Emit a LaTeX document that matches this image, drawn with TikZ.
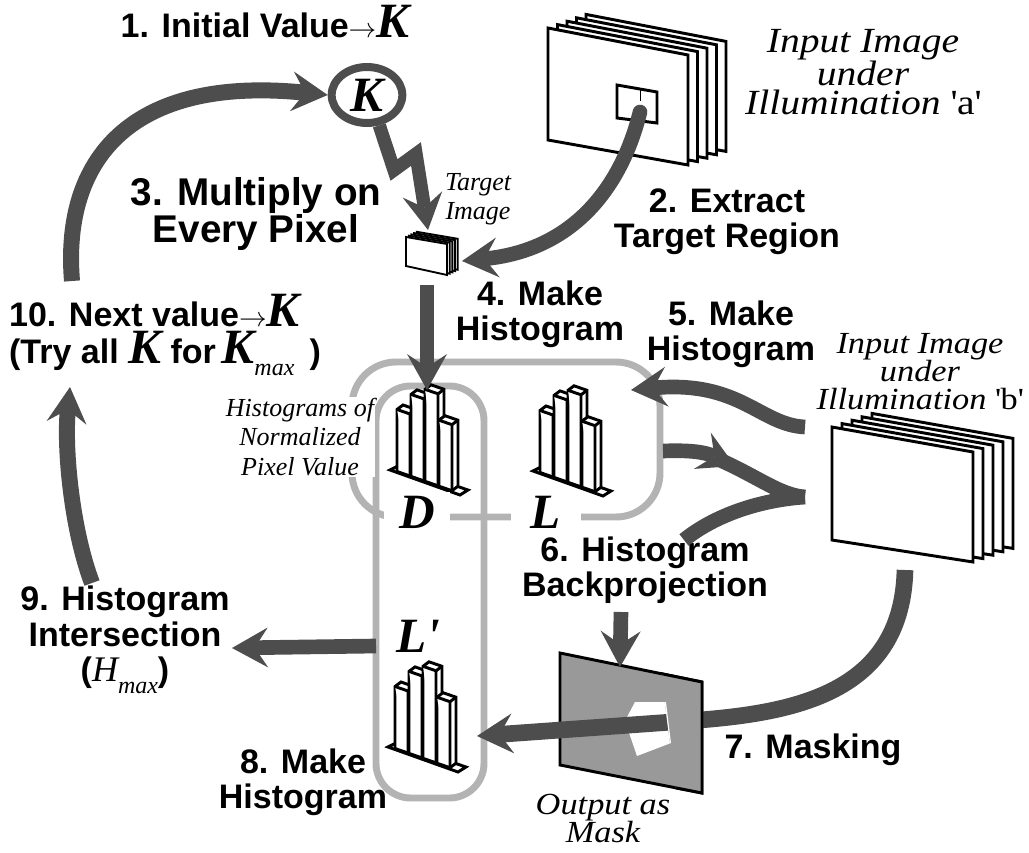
\documentclass[tikz,border=0pt]{standalone}
\usepackage{fontspec}
\setmainfont{Liberation Serif}
\newfontfamily\labelfont{Liberation Sans}
\newfontfamily\notefont[FakeStretch=1.12]{Liberation Serif}
\usetikzlibrary{arrows.meta,shapes.geometric}
\definecolor{flowgray}{HTML}{4D4D4D}
\definecolor{boxgray}{HTML}{B3B3B3}
\definecolor{maskgray}{HTML}{999999}

% big bold italic variable letter
\newcommand\BigK{{\rmfamily\bfseries\itshape\fontsize{37}{37}\selectfont K}}
% thin arrow used inside the bold labels
\newcommand\thinarrow{{\fontsize{21}{21}\selectfont$\rightarrow$}}
% italic subscript
\newcommand\subit[1]{\raisebox{-9pt}{\rmfamily\mdseries\itshape\fontsize{18}{18}\selectfont #1}}
% one isometric bar: front-left foot (#1,#2), height #3
\newcommand\histbar[3]{%
  \filldraw[histline] (#1,#2) -- ++(13,4.5) -- ++(6,-4.5) -- ++(0,-#3) -- ++(-13,-4.5) -- ++(-6,4.5) -- cycle;
  \draw[histline] (#1,#2) ++(13,4.5) -- ++(0,-#3) -- ++(-13,-4.5);
  \draw[histline] (#1,#2) ++(13,4.5) ++(0,-#3) -- ++(6,-4.5);
}

\tikzset{
  histline/.style={draw=black, fill=white, line width=2.2pt, line join=miter},
  histo/.pic={
    \filldraw[histline] (0,0) -- (70,25) -- (78,20) -- (8,-4) -- cycle;
    \histbar{7}{1.5}{62}
    \histbar{21}{6.4}{82}
    \histbar{35}{11.3}{92}
    \histbar{49}{16.2}{66}
  },
  sheet/.style={draw=black, fill=white, line width=2.2pt, line join=miter},
  smallsheet/.style={draw=black, fill=white, line width=1.4pt, line join=miter},
  groupbox/.style={draw=boxgray, line width=5.2pt},
  steplabel/.style={font=\labelfont\bfseries\fontsize{25.5}{26.5}\selectfont, align=center, inner sep=1pt},
  note/.style={font=\notefont\itshape\fontsize{23}{21}\selectfont, align=center, inner sep=1pt},
  bignote/.style={font=\notefont\itshape\fontsize{26.5}{21.5}\selectfont, align=center, inner sep=1pt},
  smallnote/.style={font=\itshape\fontsize{19.5}{22}\selectfont, align=center, inner sep=1pt},
  varlabel/.style={font=\bfseries\itshape\fontsize{37}{37}\selectfont, inner sep=0pt},
  headtip/.tip={Stealth[length=27pt, width=30pt, inset=10pt, line width=0pt]},
  flow/.style={draw=flowgray, line width=11pt, line cap=butt, -headtip},
  flowplain/.style={draw=flowgray, line width=11pt},
}

\begin{document}
\begin{tikzpicture}[x=0.75pt, y=-0.75pt]
\useasboundingbox (0,0) rectangle (1029,853);

% ---- grouping outlines around the histograms
\draw[groupbox, rounded corners=33pt] (352,362) rectangle (660,517);
\draw[groupbox, rounded corners=26pt] (376,386) rectangle (484,798);

% ---- histograms
\pic at (390,470) {histo};
\pic at (533,471) {histo};
\pic at (388,747) {histo};

\node[varlabel, fill=white, minimum width=50pt, minimum height=30pt] (dlab) at (417,512) {D};
\node[varlabel, fill=white, minimum width=52pt, minimum height=30pt] (llab) at (546,512) {L};
\node[varlabel] (lplab) at (418,636) {L\textquotesingle};

% ---- input image stack under illumination a
\foreach \k in {4,3,2,1,0}
  \filldraw[sheet, shift={(9.5*\k,-3.4*\k)}] (548,28) -- (688,55) -- (688,165) -- (548,140) -- cycle;
\filldraw[sheet] (617,85) -- (657,92) -- (657,123) -- (617,118) -- cycle;
\draw[line width=0.7pt] (640,90) -- (640,101);
\coordinate (regionOut) at (640,112);

% ---- target image stack
\foreach \k in {4,3,2,1,0}
  \filldraw[smallsheet, shift={(2.7*\k,-1.3*\k)}] (406,237) -- (447,244) -- (447,275) -- (406,266) -- cycle;
\coordinate (tgtIn) at (462,261);
\coordinate (tgtTop) at (428,230);
\coordinate (tgtBottom) at (427,285);

% ---- input image stack under illumination b
\foreach \k in {4,3,2,1,0}
  \filldraw[sheet, shift={(10*\k,-3.4*\k)}] (832,427) -- (973,452) -- (973,562) -- (832,540) -- cycle;
\coordinate (bOutA) at (805,427);
\coordinate (bJoin) at (805,497);
\coordinate (bOutB) at (905,570);

% ---- output mask
\filldraw[draw=black, fill=maskgray, line width=2.2pt] (560,653) -- (702,682) -- (702,793) -- (560,765) -- cycle;
\fill[white] (635,702) -- (666,702) -- (671,743) -- (637,756) -- (625,721) -- cycle;
\coordinate (maskTop) at (620,667);

% ---- text labels
\node[steplabel] (s1) at (265,22) {1. Initial Value\thinarrow\BigK};
\node[ellipse, draw=flowgray, line width=6pt, minimum width=53pt, minimum height=42pt, inner sep=0pt] (kcirc) at (367,95) {\BigK};
\node[steplabel, font=\labelfont\bfseries\fontsize{29}{25}\selectfont] (s3) at (256,214) {3. Multiply on\\Every Pixel};
\node[smallnote] (tgtnote) at (478,199) {Target\\Image};
\node[steplabel] (s2) at (727,222) {2. Extract\\Target Region};
\node[bignote] (anote) at (863,72) {Input Image\\under\\Illumination \upshape\textquotesingle a\textquotesingle};
\node[steplabel, align=left, font=\labelfont\bfseries\fontsize{25.5}{28}\selectfont] (s10) at (165,335) {10. Next value\thinarrow\BigK\\(Try all \BigK\ for\,\BigK\subit{max}\ \,)};
\node[steplabel] (s4) at (540,314) {4. Make\\Histogram};
\node[steplabel] (s5) at (731,334) {5. Make\\Histogram};
\node[note] (bnote) at (920,372) {Input Image\\under\\Illumination \upshape\textquotesingle b\textquotesingle};
\node[smallnote, fill=white] (hnote) at (300,437) {Histograms of\\Normalized\\Pixel Value};
\node[steplabel] (s6) at (645,570) {6. Histogram\\Backprojection};
\node[steplabel] (s9) at (125,640) {9. Histogram\\Intersection\\({\rmfamily\mdseries\itshape\fontsize{27}{27}\selectfont H}\subit{max})};
\node[steplabel] (s7) at (813,750) {7. Masking};
\node[steplabel] (s8) at (303,782) {8. Make\\Histogram};
\node[note] (masknote) at (603,818) {Output as\\Mask};

\coordinate (s10Top) at (72,281);
\coordinate (s10Bottom) at (70,387);
\coordinate (s9Top) at (92,583);
\coordinate (s9In) at (232,648);
\coordinate (boxBLeft) at (376,646);
\coordinate (boxBIn) at (477,736);
\coordinate (boxAIn) at (631,390);
\coordinate (boxAOut) at (663,451);
\coordinate (s6In) at (684,540);
\coordinate (s6Out) at (621,612);
\coordinate (histTop) at (427,390);

% ---- flow arrows
\draw[flow, line width=12pt] (s10Top) .. controls (62,160) and (130,75) .. (kcirc.west);
\draw[flow, line width=12pt] (s9Top) .. controls (72,530) and (64,450) .. (s10Bottom);
\draw[flow, line join=miter, line width=10pt] (kcirc.-68) -- (394,170) -- (416,154) -- (tgtTop);
\draw[flow, line cap=round] (regionOut) .. controls (622,185) and (575,250) .. (tgtIn);
\draw[flow] (tgtBottom) -- (histTop);
\draw[flow] (bOutA) .. controls (760,425) and (740,380) .. (boxAIn);
\draw[flowplain] (bJoin) .. controls (760,500) and (715,515) .. (s6In);
\draw[flowplain] (720,460) .. controls (760,478) and (780,495) .. (bJoin);
\draw[flow] (boxAOut) .. controls (690,450) and (705,452) .. (735,466);
\draw[flow] (s6Out) -- (maskTop);
\draw[flow, line width=12.5pt] (bOutB) .. controls (902,690) and (800,712) .. (700,720) -- (boxBIn);
\draw[flow] (boxBLeft) -- (s9In);

% right part of the mask lies in front of the arrow passing through it
\begin{scope}
  \clip (652,600) -- (800,600) -- (800,800) -- (677,800) -- cycle;
  \filldraw[draw=black, fill=maskgray, line width=2.2pt] (560,653) -- (702,682) -- (702,793) -- (560,765) -- cycle;
  \fill[white] (635,702) -- (666,702) -- (671,743) -- (637,756) -- (625,721) -- cycle;
\end{scope}
\end{tikzpicture}
\end{document}
